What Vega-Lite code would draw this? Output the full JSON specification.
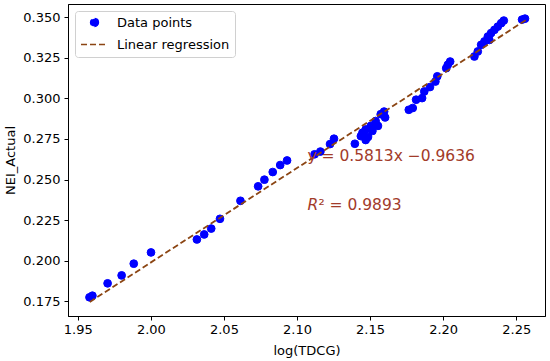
{
  "$schema": "https://vega.github.io/schema/vega-lite/v6.json",
  "width": 477,
  "height": 312,
  "autosize": {"type": "none"},
  "padding": {"left": 68, "top": 4, "right": 5, "bottom": 45},
  "background": "white",
  "config": {
    "font": "DejaVu Sans",
    "view": {"stroke": "black", "strokeWidth": 1},
    "axis": {
      "labelFont": "DejaVu Sans",
      "labelFontSize": 13,
      "labelColor": "black",
      "titleFont": "DejaVu Sans",
      "titleFontSize": 13,
      "titleFontWeight": "normal",
      "titleColor": "black",
      "domainColor": "black",
      "tickColor": "black",
      "tickSize": 4,
      "grid": false
    }
  },
  "layer": [
    {
      "data": {
        "values": [
          {"x": 1.958, "y": 0.1775, "series": "Data points"}, {"x": 1.960, "y": 0.1785, "series": "Data points"}, {"x": 1.9704, "y": 0.1861, "series": "Data points"},
          {"x": 1.980, "y": 0.191, "series": "Data points"}, {"x": 1.9883, "y": 0.1982, "series": "Data points"}, {"x": 2.0001, "y": 0.2051, "series": "Data points"},
          {"x": 2.0315, "y": 0.2131, "series": "Data points"}, {"x": 2.0365, "y": 0.2162, "series": "Data points"}, {"x": 2.0413, "y": 0.2198, "series": "Data points"},
          {"x": 2.0473, "y": 0.2258, "series": "Data points"}, {"x": 2.0613, "y": 0.2369, "series": "Data points"}, {"x": 2.0734, "y": 0.2458, "series": "Data points"},
          {"x": 2.0777, "y": 0.2499, "series": "Data points"}, {"x": 2.0834, "y": 0.2546, "series": "Data points"}, {"x": 2.0885, "y": 0.2589, "series": "Data points"},
          {"x": 2.0932, "y": 0.2617, "series": "Data points"}, {"x": 2.112, "y": 0.2655, "series": "Data points"}, {"x": 2.116, "y": 0.2672, "series": "Data points"},
          {"x": 2.1226, "y": 0.2718, "series": "Data points"}, {"x": 2.1253, "y": 0.2751, "series": "Data points"}, {"x": 2.1396, "y": 0.2720, "series": "Data points"},
          {"x": 2.1437, "y": 0.2767, "series": "Data points"}, {"x": 2.1448, "y": 0.2788, "series": "Data points"}, {"x": 2.1470, "y": 0.2743, "series": "Data points"},
          {"x": 2.1470, "y": 0.2808, "series": "Data points"}, {"x": 2.1486, "y": 0.2762, "series": "Data points"}, {"x": 2.1505, "y": 0.2830, "series": "Data points"},
          {"x": 2.1516, "y": 0.2799, "series": "Data points"}, {"x": 2.1538, "y": 0.2860, "series": "Data points"}, {"x": 2.1554, "y": 0.2830, "series": "Data points"},
          {"x": 2.1573, "y": 0.2902, "series": "Data points"}, {"x": 2.1596, "y": 0.2918, "series": "Data points"}, {"x": 2.1603, "y": 0.2882, "series": "Data points"},
          {"x": 2.1765, "y": 0.2929, "series": "Data points"}, {"x": 2.1792, "y": 0.2940, "series": "Data points"}, {"x": 2.1815, "y": 0.2991, "series": "Data points"},
          {"x": 2.1856, "y": 0.3001, "series": "Data points"}, {"x": 2.1871, "y": 0.3042, "series": "Data points"}, {"x": 2.1910, "y": 0.3069, "series": "Data points"},
          {"x": 2.1947, "y": 0.3103, "series": "Data points"}, {"x": 2.1960, "y": 0.3135, "series": "Data points"}, {"x": 2.2021, "y": 0.3185, "series": "Data points"},
          {"x": 2.2032, "y": 0.3206, "series": "Data points"}, {"x": 2.2048, "y": 0.3226, "series": "Data points"}, {"x": 2.2214, "y": 0.3257, "series": "Data points"},
          {"x": 2.2237, "y": 0.3288, "series": "Data points"}, {"x": 2.2260, "y": 0.3329, "series": "Data points"}, {"x": 2.2283, "y": 0.3350, "series": "Data points"},
          {"x": 2.2306, "y": 0.3380, "series": "Data points"}, {"x": 2.2316, "y": 0.3359, "series": "Data points"}, {"x": 2.2328, "y": 0.3401, "series": "Data points"},
          {"x": 2.2351, "y": 0.3421, "series": "Data points"}, {"x": 2.2374, "y": 0.3441, "series": "Data points"}, {"x": 2.2397, "y": 0.3462, "series": "Data points"},
          {"x": 2.2415, "y": 0.3478, "series": "Data points"}, {"x": 2.254, "y": 0.3484, "series": "Data points"}, {"x": 2.256, "y": 0.3490, "series": "Data points"}
        ]
      },
      "mark": {"type": "point", "filled": false, "fill": "#0000ff", "strokeWidth": 1, "opacity": 1},
      "encoding": {
        "x": {
          "field": "x", "type": "quantitative",
          "scale": {"domain": [1.9433, 2.2697], "nice": false, "zero": false},
          "axis": {"values": [1.95, 2.0, 2.05, 2.1, 2.15, 2.2, 2.25], "format": ".2f", "title": "log(TDCG)", "labelPadding": 3, "titlePadding": 8}
        },
        "y": {
          "field": "y", "type": "quantitative",
          "scale": {"domain": [0.166, 0.358], "nice": false, "zero": false},
          "axis": {"values": [0.175, 0.2, 0.225, 0.25, 0.275, 0.3, 0.325, 0.35], "format": ".3f", "title": "NEI_Actual", "labelPadding": 4, "titlePadding": 5}
        },
        "color": {
          "field": "series", "type": "nominal",
          "scale": {"domain": ["Data points", "Linear regression"], "range": ["#0000ff", "#8b4513"]},
          "legend": {
            "title": null,
            "orient": "none",
            "legendX": 7,
            "legendY": 7,
            "padding": 5,
            "strokeColor": "#d0d0d0",
            "fillColor": "white",
            "cornerRadius": 3,
            "labelFont": "DejaVu Sans",
            "labelFontSize": 13,
            "labelColor": "black",
            "symbolStrokeWidth": 1.6,
            "symbolDash": [6, 3],
            "symbolOpacity": 1,
            "labelOffset": 8,
            "rowPadding": -9
          }
        },
        "shape": {
          "field": "series", "type": "nominal",
          "scale": {"domain": ["Data points", "Linear regression"], "range": ["circle", "stroke"]},
          "legend": {"title": null}
        },
        "size": {
          "field": "series", "type": "nominal",
          "scale": {"domain": ["Data points", "Linear regression"], "range": [60, 729]},
          "legend": {"title": null}
        }
      }
    },
    {
      "data": {"values": [{"x": 1.9582, "y": 0.17464, "series": "Linear regression"}, {"x": 2.2570, "y": 0.34834, "series": "Linear regression"}]},
      "mark": {"type": "line", "strokeDash": [6, 3], "strokeWidth": 1.8},
      "encoding": {
        "x": {"field": "x", "type": "quantitative"},
        "y": {"field": "y", "type": "quantitative"},
        "color": {"field": "series", "type": "nominal", "legend": null}
      }
    },
    {
      "data": {"values": [{"x": 2.1071, "y": 0.2647, "label": "y = 0.5813x −0.9636"}]},
      "mark": {"type": "text", "align": "left", "baseline": "middle", "fontSize": 15.5, "font": "DejaVu Sans", "color": "#a23b2a"},
      "encoding": {
        "x": {"field": "x", "type": "quantitative"},
        "y": {"field": "y", "type": "quantitative"},
        "text": {"field": "label"}
      }
    },
    {
      "data": {"values": [{"x": 2.1071, "y": 0.2346, "label": "R"}]},
      "mark": {"type": "text", "align": "left", "baseline": "middle", "fontSize": 15.5, "font": "DejaVu Sans", "fontStyle": "italic", "color": "#a23b2a"},
      "encoding": {
        "x": {"field": "x", "type": "quantitative"},
        "y": {"field": "y", "type": "quantitative"},
        "text": {"field": "label"}
      }
    },
    {
      "data": {"values": [{"x": 2.1071, "y": 0.2346, "label": "² = 0.9893"}]},
      "mark": {"type": "text", "align": "left", "baseline": "middle", "dx": 11, "fontSize": 15.5, "font": "DejaVu Sans", "color": "#a23b2a"},
      "encoding": {
        "x": {"field": "x", "type": "quantitative"},
        "y": {"field": "y", "type": "quantitative"},
        "text": {"field": "label"}
      }
    }
  ]
}
